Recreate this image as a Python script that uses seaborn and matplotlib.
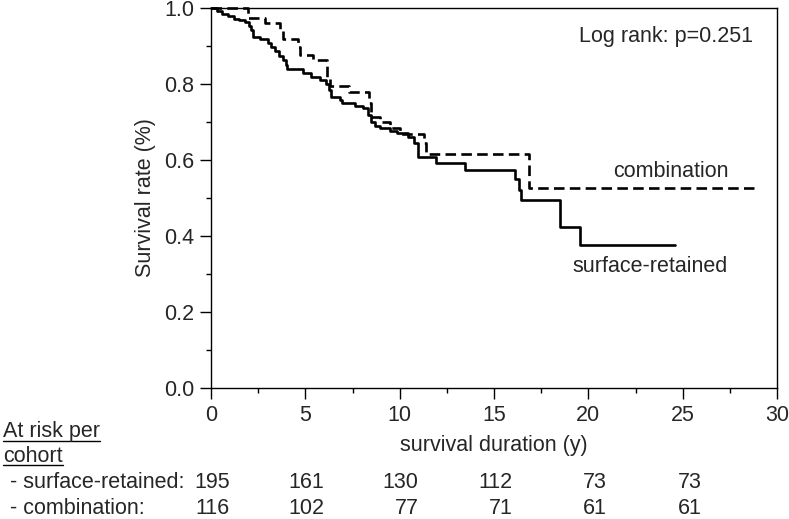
import matplotlib
matplotlib.use('Agg')
import matplotlib.pyplot as plt
import matplotlib.transforms as mtransforms
from matplotlib.ticker import MultipleLocator
from matplotlib.lines import Line2D
import pandas as pd
import seaborn as sns

# Kaplan-Meier steps (time in years, survival after the step)
SURFACE_T = [0.0, 0.3, 0.6, 0.9, 1.2, 1.5, 1.8, 2.0, 2.1, 2.25, 2.6, 3.0, 3.2, 3.4, 3.6, 3.8,
             3.95, 4.05, 4.9, 5.3, 5.8, 6.1, 6.25, 6.35, 6.85, 6.95, 7.65, 8.05, 8.3, 8.5, 8.7,
             8.95, 9.5, 9.85, 10.45, 10.75, 10.95, 11.9, 13.45, 16.1, 16.3, 16.45, 18.5, 19.55, 24.6]
SURFACE_S = [1.0, 0.993, 0.985, 0.978, 0.972, 0.968, 0.964, 0.952, 0.942, 0.925, 0.918, 0.907,
             0.897, 0.888, 0.875, 0.862, 0.85, 0.839, 0.828, 0.818, 0.81, 0.80, 0.785, 0.767,
             0.758, 0.749, 0.742, 0.736, 0.718, 0.701, 0.69, 0.683, 0.676, 0.67, 0.661, 0.645,
             0.609, 0.591, 0.575, 0.551, 0.521, 0.495, 0.423, 0.376, 0.376]

COMBO_T = [0.0, 1.98, 2.86, 3.66, 3.83, 4.6, 4.7, 5.4, 6.15, 6.3, 7.3, 8.4, 8.5, 8.95, 9.5,
           10.0, 11.3, 11.4, 16.85, 28.8]
COMBO_S = [1.0, 0.975, 0.96, 0.942, 0.918, 0.898, 0.876, 0.863, 0.819, 0.795, 0.78, 0.749,
           0.714, 0.70, 0.683, 0.668, 0.645, 0.616, 0.527, 0.527]

RISK_TIMES = [0, 5, 10, 15, 20, 25]
RISK_SURFACE = [195, 161, 130, 112, 73, 73]
RISK_COMBO = [116, 102, 77, 71, 61, 61]

FS = 15.5

sns.set_style('ticks')
plt.rcParams['font.family'] = ['Liberation Sans', 'DejaVu Sans']
plt.rcParams['font.size'] = FS

W, H = 789, 519
fig = plt.figure(figsize=(W / 100, H / 100), dpi=100)
ax = fig.add_axes([211 / W, 1 - 388 / H, (777 - 211) / W, 380 / H])

surface = pd.DataFrame({'t': SURFACE_T, 's': SURFACE_S})
combo = pd.DataFrame({'t': COMBO_T, 's': COMBO_S})

sns.lineplot(data=surface, x='t', y='s', estimator=None, sort=True, color='black',
             linewidth=1.9, drawstyle='steps-post', clip_on=False, ax=ax)
sns.lineplot(data=combo, x='t', y='s', estimator=None, sort=True, color='black',
             linewidth=1.9, drawstyle='steps-post', linestyle=(0, (4, 2)), clip_on=False, ax=ax)

ax.set_xlim(0, 30)
ax.set_ylim(0, 1)
ax.xaxis.set_major_locator(MultipleLocator(5))
ax.xaxis.set_minor_locator(MultipleLocator(2.5))
ax.yaxis.set_major_locator(MultipleLocator(0.2))
ax.yaxis.set_minor_locator(MultipleLocator(0.1))
ax.yaxis.set_major_formatter(plt.FormatStrFormatter('%.1f'))
ax.tick_params(which='major', length=8, width=1.0, labelsize=FS, pad=4, direction='out', color='black')
ax.tick_params(which='minor', length=3.6, width=1.0, direction='out', color='black')
for sp in ax.spines.values():
    sp.set_linewidth(1.0)
    sp.set_color('black')

ax.set_xlabel('survival duration (y)', fontsize=FS)
ax.set_ylabel('Survival rate (%)', fontsize=FS)
ax.xaxis.set_label_coords(0.5, -(445 - 388) / 380)
ax.xaxis.label.set_va('center')
ax.yaxis.set_label_coords(-(211 - 145) / 566, 0.5)
ax.yaxis.label.set_va('center')

ax.text(28.72, 0.924, 'Log rank: p=0.251', ha='right', va='center', fontsize=FS)
ax.text(24.4, 0.569, 'combination', ha='center', va='center', fontsize=FS)
ax.text(23.26, 0.319, 'surface-retained', ha='center', va='center', fontsize=FS)

# at-risk table under the axis
fig_text = dict(transform=fig.transFigure, fontsize=FS, va='center', ha='left')
t1 = fig.text(3 / W, 1 - 432 / H, 'At risk per', **fig_text)
t2 = fig.text(3 / W, 1 - 456 / H, 'cohort', **fig_text)
fig.text(10 / W, 1 - 483 / H, '- surface-retained:', **fig_text)
fig.text(10 / W, 1 - 508 / H, '- combination:', **fig_text)

blend = mtransforms.blended_transform_factory(ax.transData, fig.transFigure)
for t, a, b in zip(RISK_TIMES, RISK_SURFACE, RISK_COMBO):
    fig.text(t + 1.0, 1 - 483 / H, str(a), ha='right', va='center', fontsize=FS, transform=blend)
    fig.text(t + 1.0, 1 - 508 / H, str(b), ha='right', va='center', fontsize=FS, transform=blend)

# underline the header words
renderer = fig.canvas.get_renderer()
for txt in (t1, t2):
    bb = txt.get_window_extent(renderer)
    y = (bb.y0 + 1.5) / H
    fig.add_artist(Line2D([bb.x0 / W, bb.x1 / W], [y, y], color='black', linewidth=1.0,
                          transform=fig.transFigure))

fig.savefig('out.png', dpi=100)
